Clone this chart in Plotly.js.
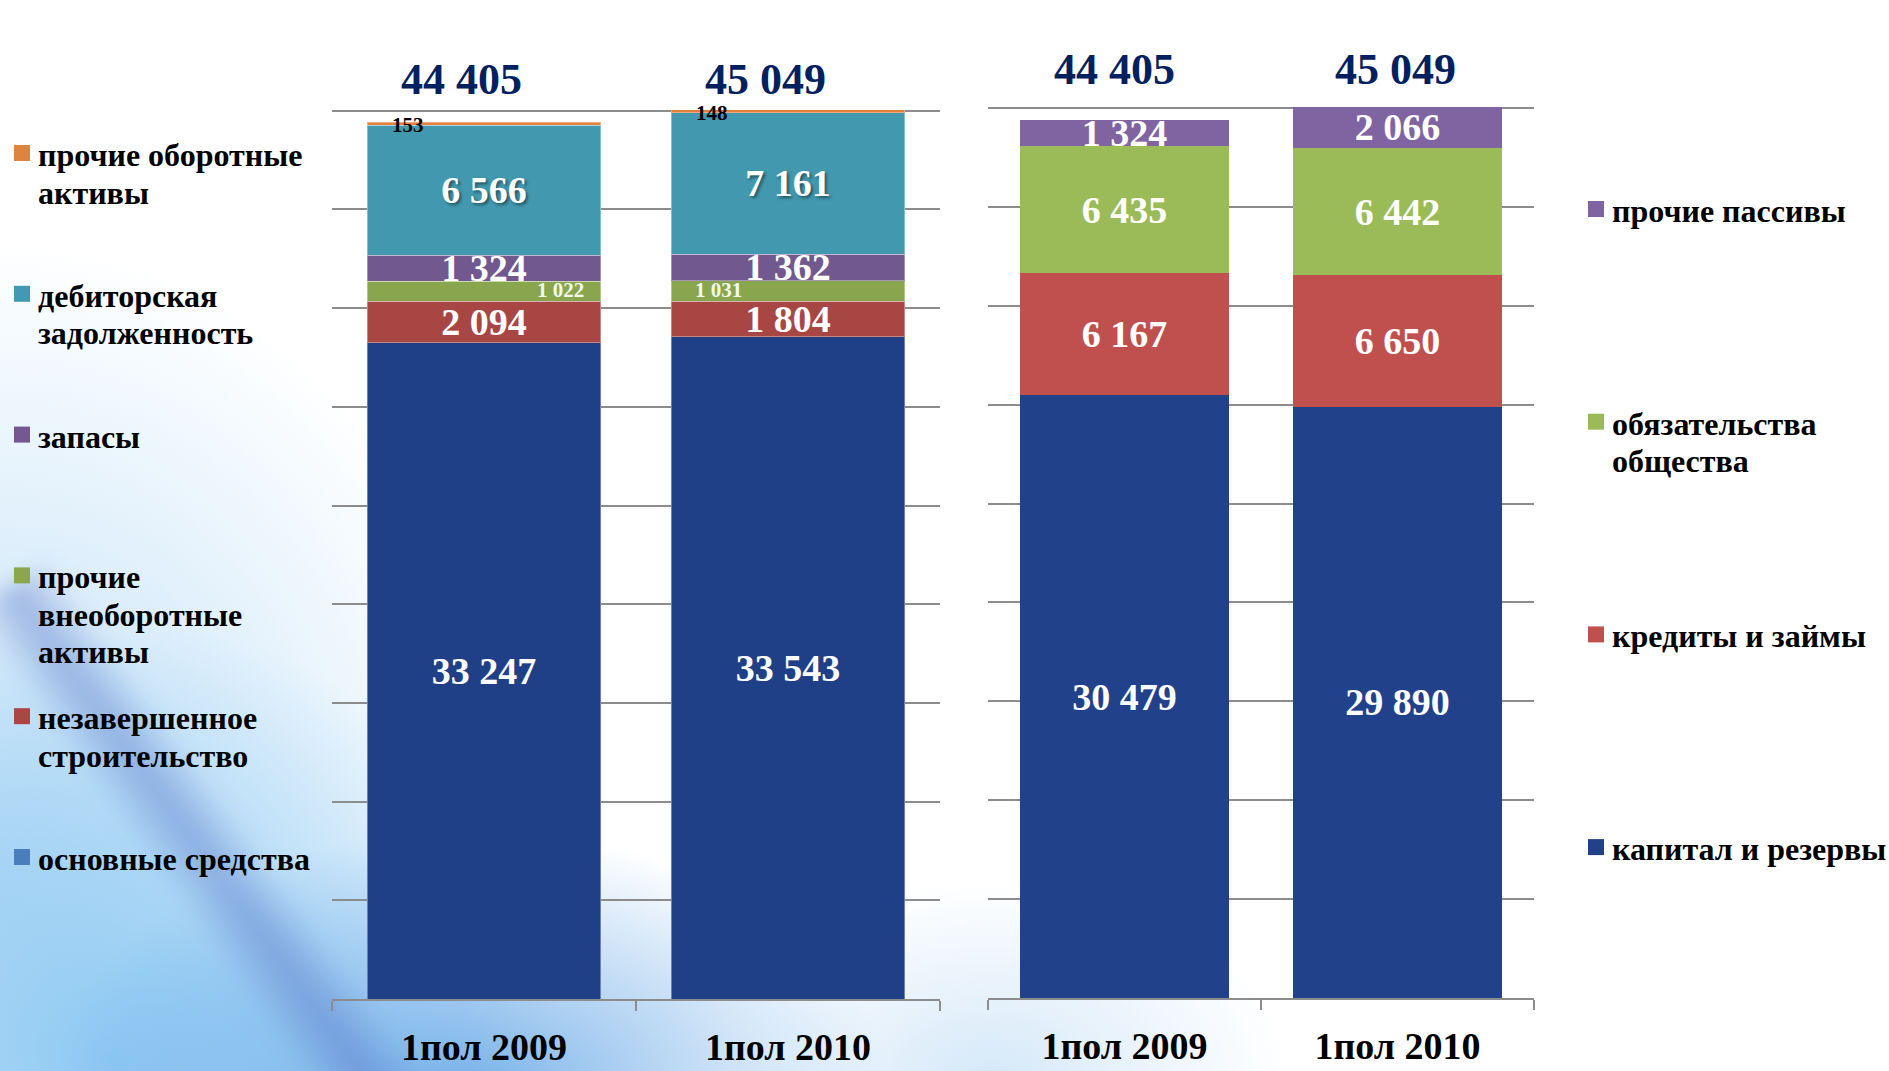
<!DOCTYPE html>
<html>
<head>
<meta charset="utf-8">
<script src="https://cdn.plot.ly/plotly-3.0.1.min.js"></script>
<style>
  html, body { margin: 0; padding: 0; overflow: hidden; background: #fff; }
  #bg {
    position: absolute; left: 0; top: 0; width: 1889px; height: 1071px; overflow: hidden;
    background:
      radial-gradient(ellipse 300px 200px at 990px 1080px, rgba(195,222,245,0.7), rgba(195,222,245,0)),
      radial-gradient(ellipse 420px 260px at 470px 1090px, rgba(90,160,228,0.8), rgba(90,160,228,0)),
      radial-gradient(ellipse 440px 440px at 110px 1060px, rgba(140,200,242,0.95), rgba(140,200,242,0)),
      radial-gradient(ellipse 520px 640px at 0px 880px, rgba(180,218,246,0.9), rgba(180,218,246,0)),
      #fff;
  }
  #streak {
    position: absolute; left: 165px; top: 520px; width: 100px; height: 700px;
    background: linear-gradient(to right, rgba(80,110,195,0), rgba(80,110,195,0.42), rgba(80,110,195,0));
    transform: rotate(-36deg); filter: blur(10px);
  }
  #chart { position: absolute; left: 0; top: 0; width: 1889px; height: 1071px; }
</style>
</head>
<body>
<div id="bg"><div id="streak"></div></div>
<div id="chart"></div>
<script>
// periods
var categories = ['1пол 2009', '1пол 2010'];

// balance totals as reported
var totals = [44405, 45049];

// assets, bottom to top of the stack
var osnovnye = [33247, 33543];
var nezavershennoe = [2094, 1804];
var prochieVneob = [1022, 1031];
var zapasy = [1324, 1362];
var debitorskaya = [6566, 7161];
var prochieOborot = [153, 148];

// liabilities, bottom to top of the stack
var kapital = [30479, 29890];
var kredity = [6167, 6650];
var obyazatelstva = [6435, 6442];
var prochiePassivy = [1324, 2066];

var assetNames = ['основные средства', 'незавершенное<br>строительство', 'прочие<br>внеоборотные<br>активы',
    'запасы', 'дебиторская<br>задолженность', 'прочие оборотные<br>активы'];
var liabNames = ['капитал и резервы', 'кредиты и займы', 'обязательства<br>общества', 'прочие пассивы'];

var W = 1889, H = 1071;
var serif = 'Liberation Serif, Times New Roman, serif';

var assetColors = ['#1F3F87', '#A84643', '#89A64E', '#71588F', '#4198AF', '#E0823C'];
var assetSwatch = ['#4A7EBB', '#AA4644', '#8CA64E', '#735891', '#4398B2', '#DD853E'];
var liabColors = ['#21418A', '#C0504D', '#9BBB59', '#8064A2'];

function fmt(v) {
    return String(v).replace(/\B(?=(\d{3})+(?!\d))/g, ' ');
}

function px(x) { return x / W; }
function py(y) { return 1 - y / H; }

var assets = [osnovnye, nezavershennoe, prochieVneob, zapasy, debitorskaya, prochieOborot];
var liabs = [kapital, kredity, obyazatelstva, prochiePassivy];

var data = [];

assets.forEach(function(vals, i) {
    var own = (i !== 2 && i !== 5); // small ones get annotations
    data.push({
        type: 'bar',
        x: categories,
        y: vals,
        name: assetNames[i],
        xaxis: 'x', yaxis: 'y',
        marker: { color: assetColors[i], line: { color: 'rgba(255,255,255,0.35)', width: 1 } },
        text: vals.map(fmt),
        textposition: own ? 'inside' : 'none',
        insidetextanchor: 'middle',
        textangle: 0,
        textfont: {
            family: serif, size: 38, weight: 'bold', color: '#ffffff',
            shadow: i === 4 ? '2px 2px 3px rgba(0,0,0,0.45)' : 'none'
        },
        hoverinfo: 'name+y'
    });
});

liabs.forEach(function(vals, i) {
    data.push({
        type: 'bar',
        x: categories,
        y: vals,
        name: liabNames[i],
        xaxis: 'x2', yaxis: 'y2',
        marker: { color: liabColors[i] },
        text: vals.map(fmt),
        textposition: 'inside',
        insidetextanchor: 'middle',
        textangle: 0,
        textfont: { family: serif, size: 38, weight: 'bold', color: '#ffffff' },
        hoverinfo: 'name+y'
    });
});

function sumAt(series, j) {
    return series.reduce(function(s, a) { return s + a[j]; }, 0);
}

var annotations = [];
var shapes = [];

// totals above the bars
categories.forEach(function(c, j) {
    annotations.push({
        x: c, xref: 'x', y: py(80), yref: 'paper', xshift: -23,
        text: fmt(totals[j]), showarrow: false, yanchor: 'middle',
        font: { family: serif, size: 44, weight: 'bold', color: '#002060' }
    });
    annotations.push({
        x: c, xref: 'x2', y: py(70), yref: 'paper', xshift: j === 0 ? -10 : -2,
        text: fmt(totals[j]), showarrow: false, yanchor: 'middle',
        font: { family: serif, size: 44, weight: 'bold', color: '#002060' }
    });
});

// small labels: прочие оборотные активы (black, upper left) and прочие внеоборотные (white, to the side)
categories.forEach(function(c, j) {
    annotations.push({
        x: c, xref: 'x', y: sumAt(assets, j), yref: 'y', xshift: -76, yshift: -3,
        text: fmt(prochieOborot[j]), showarrow: false, yanchor: 'middle',
        font: { family: serif, size: 21, weight: 'bold', color: '#000000' }
    });
    var mid = osnovnye[j] + nezavershennoe[j] + prochieVneob[j] / 2;
    annotations.push({
        x: c, xref: 'x', y: mid, yref: 'y',
        xshift: j === 0 ? 102 : -95, xanchor: j === 0 ? 'right' : 'left', yshift: 1,
        text: fmt(prochieVneob[j]), showarrow: false, yanchor: 'middle',
        font: { family: serif, size: 21, weight: 'bold', color: '#F4F8EC' }
    });
});

// hand placed legends
function legend(names, colors, x0, yTop, step) {
    var n = names.length;
    for (var i = 0; i < n; i++) {
        var k = n - 1 - i;
        var cy = yTop + i * step;
        shapes.push({
            type: 'rect', xref: 'paper', yref: 'paper',
            x0: px(x0), x1: px(x0 + 16), y0: py(cy + 8), y1: py(cy - 8),
            fillcolor: colors[k], line: { width: 0 }
        });
        names[k].split('<br>').forEach(function(line, l) {
            annotations.push({
                x: px(x0 + 22), xref: 'paper', y: py(cy + 2 + l * 37.5), yref: 'paper',
                xanchor: 'left', yanchor: 'middle', showarrow: false, text: line,
                font: { family: serif, size: 32, weight: 'bold', color: '#000000' }
            });
        });
    }
}
legend(assetNames, assetSwatch, 14, 153, 140.8);
legend(liabNames, liabColors, 1588, 209, 212.7);

var xStyle = {
    type: 'category',
    showline: true, linecolor: '#8C8C8C', linewidth: 2,
    ticks: 'outside', tickson: 'boundaries', ticklen: 10, tickwidth: 2, tickcolor: '#8C8C8C',
    showgrid: false, zeroline: false,
    ticklabelstandoff: 13,
    tickfont: { family: serif, size: 38, weight: 'bold', color: '#000000' },
    fixedrange: true
};
var yStyle = {
    range: [0, 50000], dtick: 5000, tick0: 0,
    showgrid: true, gridcolor: '#8C8C8C', gridwidth: 2,
    showticklabels: false, zeroline: false, showline: false, ticks: '',
    fixedrange: true
};

var layout = {
    width: W, height: H,
    autosize: false,
    margin: { l: 0, r: 0, t: 0, b: 0 },
    paper_bgcolor: 'rgba(0,0,0,0)',
    plot_bgcolor: 'rgba(0,0,0,0)',
    barmode: 'stack',
    bargap: 0.232,
    showlegend: false,
    uniformtext: { mode: 'show', minsize: 38 },
    xaxis: Object.assign({}, xStyle, { domain: [px(332), px(940)], anchor: 'y' }),
    yaxis: Object.assign({}, yStyle, { domain: [py(999), py(12)], anchor: 'x' }),
    xaxis2: Object.assign({}, xStyle, { domain: [px(988), px(1534)], anchor: 'y2' }),
    yaxis2: Object.assign({}, yStyle, { domain: [py(998), py(9)], anchor: 'x2' }),
    annotations: annotations,
    shapes: shapes
};

Plotly.newPlot('chart', data, layout, { displayModeBar: false, staticPlot: true });
</script>
</body>
</html>
